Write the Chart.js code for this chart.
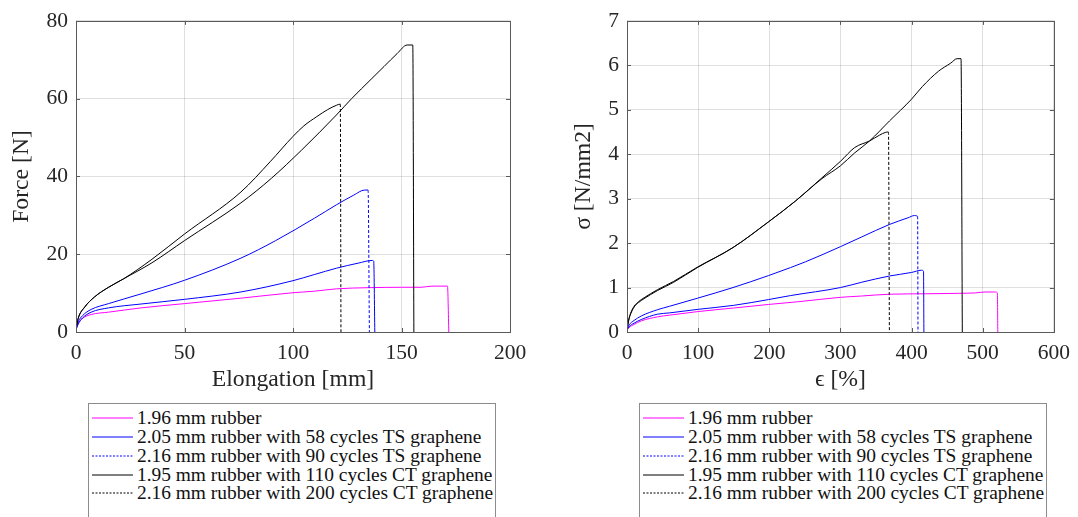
<!DOCTYPE html>
<html>
<head>
<meta charset="utf-8">
<script src="https://cdn.jsdelivr.net/npm/chart.js@4/dist/chart.umd.min.js"></script>
<style>
body { margin: 0; background: #fff; width: 1078px; height: 517px; overflow: hidden; position: relative; font-family: "Liberation Serif", "DejaVu Serif", serif; }
canvas { position: absolute; top: 0; }
#forceChart { left: 0; }
#stressChart { left: 540px; }
.legendBox { position: absolute; top: 403px; width: 408px; height: 140px; border: 1px solid #8c8c8c; box-sizing: border-box; padding-top: 5px; background: #fff; }
.legendRow { height: 18.75px; display: flex; align-items: center; white-space: nowrap; font-size: 19.4px; color: #111; }
.legendRow svg { margin-left: 3px; margin-right: 4px; flex: none; }
</style>
</head>
<body>
<canvas id="forceChart" width="540" height="400"></canvas>
<canvas id="stressChart" width="538" height="400"></canvas>
<div class="legendBox" id="legendLeft" style="left:88px"></div>
<div class="legendBox" id="legendRight" style="left:639px"></div>
<script>
// series names, in drawing order
var seriesLabels = [
    "1.96 mm rubber",
    "2.05 mm rubber with 58 cycles TS graphene",
    "2.16 mm rubber with 90 cycles TS graphene",
    "1.95 mm rubber with 110 cycles CT graphene",
    "2.16 mm rubber with 200 cycles CT graphene"
];
var seriesColors = ["#ff00ff", "#0000ff", "#0000ff", "#000000", "#000000"];
var seriesDashed = [false, false, true, false, true];

// left plot: elongation [mm] vs force [N]
var forceRubber = [[0,0.5],[1,2.2],[3,3.5],[7,4.5],[15,5.1],[30,6.2],[50,7.3],[76,8.7],[100,10.1],[110,10.5],[120,11.1],[135,11.4],[150,11.5],[159,11.5],[164,11.8],[171.2,11.8],[171.8,0]];
var forceTS58 = [[0,0.6],[1,2.0],[3,3.6],[7,5.1],[15,6.2],[30,7.2],[50,8.4],[76,10.3],[100,13.2],[110,14.8],[120,16.4],[130,17.7],[136.5,18.4],[137.2,18.2],[137.7,0]];
var forceTS90 = [[0,0.8],[1,2.6],[3,4.2],[7,5.8],[15,7.3],[30,9.8],[50,13.3],[76,19.0],[92,23.5],[110,29.3],[120,32.7],[128,35.2],[133,36.5],[134.6,36.5],[135.2,0]];
var forceCT110 = [[0,0.8],[1,3.5],[4,6.4],[8.5,9.0],[15,11.5],[22,13.7],[35,17.8],[50,23.5],[76,33.2],[90,39.5],[104,46.8],[120,55.8],[127,60],[136,65],[142,68.3],[148,71.6],[152.6,73.8],[155.2,73.8],[155.7,0]];
var forceCT200 = [[0,0.8],[1,3.5],[4,6.4],[8.5,9.0],[15,11.5],[22,13.7],[35,18.7],[50,25.2],[76,36.0],[89.5,43.8],[100,50.3],[105,53.0],[111,55.4],[116,57.2],[120,58.3],[121.8,58.6],[122.1,0]];

// right plot: strain [%] vs stress [N/mm2]
var stressRubber = [[0,0.04],[3,0.1],[10,0.17],[20,0.25],[42.6,0.34],[60,0.38],[100,0.46],[150,0.54],[199,0.62],[240,0.68],[300,0.78],[330,0.81],[369,0.85],[420,0.86],[466,0.87],[490,0.88],[503,0.9],[517,0.9],[520.6,0.88],[521.2,0]];
var stressTS58 = [[0,0.05],[3,0.12],[10,0.2],[20,0.28],[42.6,0.4],[60,0.43],[100,0.51],[150,0.6],[199,0.73],[230,0.82],[300,1.0],[330,1.12],[369,1.26],[400,1.34],[413.7,1.39],[416.8,1.37],[417.3,0]];
var stressTS90 = [[0,0.06],[3,0.16],[10,0.26],[20,0.36],[42.6,0.5],[60,0.58],[99,0.76],[149,1.0],[199,1.27],[230,1.45],[251,1.58],[300,1.92],[330,2.14],[369,2.42],[395,2.57],[404,2.62],[408.5,2.6],[409,0]];
var stressCT110 = [[0,0.06],[3,0.3],[5,0.4],[10,0.56],[16,0.66],[24,0.75],[42.6,0.93],[65.7,1.12],[99,1.45],[149,1.9],[199,2.48],[237,2.95],[274,3.45],[300,3.74],[320,4.03],[341,4.3],[369,4.75],[400,5.24],[415,5.52],[438,5.87],[455,6.05],[464,6.15],[469.5,6.15],[471.3,0]];
var stressCT200 = [[0,0.06],[3,0.32],[5,0.42],[10,0.58],[16,0.68],[24,0.77],[42.6,0.95],[65.7,1.14],[99,1.46],[149,1.9],[199,2.48],[237,2.95],[274,3.47],[300,3.84],[320,4.15],[341,4.3],[355,4.43],[363,4.49],[367.5,4.5],[368.8,0]];

var forceTicks = [0, 50, 100, 150, 200];
var forceYTicks = [0, 20, 40, 60, 80];
var strainTicks = [0, 100, 200, 300, 400, 500, 600];
var stressTicks = [0, 1, 2, 3, 4, 5, 6, 7];

var textColor = "#262626";
var axisColor = "#5a5a5a";
var gridColor = "rgba(38,38,38,0.15)";
var fontFamily = "'Liberation Serif', 'DejaVu Serif', serif";

// box around the axes with inward ticks on every side, like the original
var frameTicks = {
    id: 'frameTicks',
    afterDraw: function (chart) {
        var ctx = chart.ctx, a = chart.chartArea, x = chart.scales.x, y = chart.scales.y;
        ctx.save();
        ctx.strokeStyle = axisColor;
        ctx.lineWidth = 1;
        ctx.beginPath();
        x.ticks.forEach(function (t) {
            var px = Math.round(x.getPixelForValue(t.value)) + 0.5;
            ctx.moveTo(px, a.bottom); ctx.lineTo(px, a.bottom - 4);
            ctx.moveTo(px, a.top); ctx.lineTo(px, a.top + 4);
        });
        y.ticks.forEach(function (t) {
            var py = Math.round(y.getPixelForValue(t.value)) + 0.5;
            ctx.moveTo(a.left, py); ctx.lineTo(a.left + 4, py);
            ctx.moveTo(a.right, py); ctx.lineTo(a.right - 4, py);
        });
        ctx.stroke();
        ctx.strokeRect(Math.round(a.left) + 0.5, Math.round(a.top) + 0.5, Math.round(a.right - a.left), Math.round(a.bottom - a.top));
        ctx.restore();
    }
};

function makeSets(seriesList) {
    return seriesList.map(function (pts, i) {
        var set = {
            label: seriesLabels[i],
            data: pts.map(function (p) { return {x: p[0], y: p[1]}; }),
            borderColor: seriesColors[i],
            borderWidth: 1,
            pointRadius: 0,
            showLine: true,
            fill: false,
            cubicInterpolationMode: 'monotone',
            order: seriesList.length - i
        };
        if (seriesDashed[i]) {
            // only the final drop shows its dashes; the dense curve looks solid
            set.segment = {
                borderDash: function (ctx) { return ctx.p1DataIndex === pts.length - 1 ? [3, 2] : undefined; }
            };
        }
        return set;
    });
}

function makeAxis(min, max, ticks, title, isX, fitSize, titlePad) {
    return {
        type: 'linear',
        min: min,
        max: max,
        afterBuildTicks: function (scale) {
            scale.ticks = ticks.map(function (v) { return {value: v}; });
        },
        afterFit: function (scale) {
            if (isX) { scale.height = fitSize; } else { scale.width = fitSize; }
        },
        ticks: {
            color: textColor,
            padding: 8,
            maxRotation: 0,
            autoSkip: false,
            font: {family: fontFamily, size: 21.5}
        },
        grid: {color: gridColor, drawTicks: false},
        border: {display: false},
        title: {
            display: true,
            text: title,
            color: textColor,
            font: {family: fontFamily, size: 23.7},
            padding: isX ? {top: 0, bottom: titlePad} : {top: titlePad, bottom: 0}
        }
    };
}

function makeChart(id, seriesList, xAxis, yAxis, padRight) {
    return new Chart(document.getElementById(id), {
        type: 'scatter',
        data: {datasets: makeSets(seriesList)},
        options: {
            responsive: false,
            animation: false,
            layout: {padding: {top: 20, right: padRight, left: 0, bottom: 0}},
            plugins: {legend: {display: false}, tooltip: {enabled: false}},
            scales: {x: xAxis, y: yAxis}
        },
        plugins: [frameTicks]
    });
}

function makeLegend(id) {
    var box = document.getElementById(id);
    seriesLabels.forEach(function (label, i) {
        var row = document.createElement('div');
        row.className = 'legendRow';
        var dash = seriesDashed[i] ? ' stroke-dasharray="2 1.5"' : '';
        row.innerHTML = '<svg width="41" height="4"><line x1="0" y1="2" x2="41" y2="2" stroke="' +
            seriesColors[i] + '" stroke-width="1"' + dash + '/></svg><span>' + label + '</span>';
        box.appendChild(row);
    });
}

makeChart('forceChart',
    [forceRubber, forceTS58, forceTS90, forceCT110, forceCT200],
    makeAxis(0, 200, forceTicks, 'Elongation [mm]', true, 68, 6),
    makeAxis(0, 80, forceYTicks, 'Force [N]', false, 76, 8),
    30);

makeChart('stressChart',
    [stressRubber, stressTS58, stressTS90, stressCT110, stressCT200],
    makeAxis(0, 600, strainTicks, 'ϵ [%]', true, 68, 6),
    makeAxis(0, 7, stressTicks, 'σ [N/mm2]', false, 87, 30),
    18);

makeLegend('legendLeft');
makeLegend('legendRight');
</script>
</body>
</html>
